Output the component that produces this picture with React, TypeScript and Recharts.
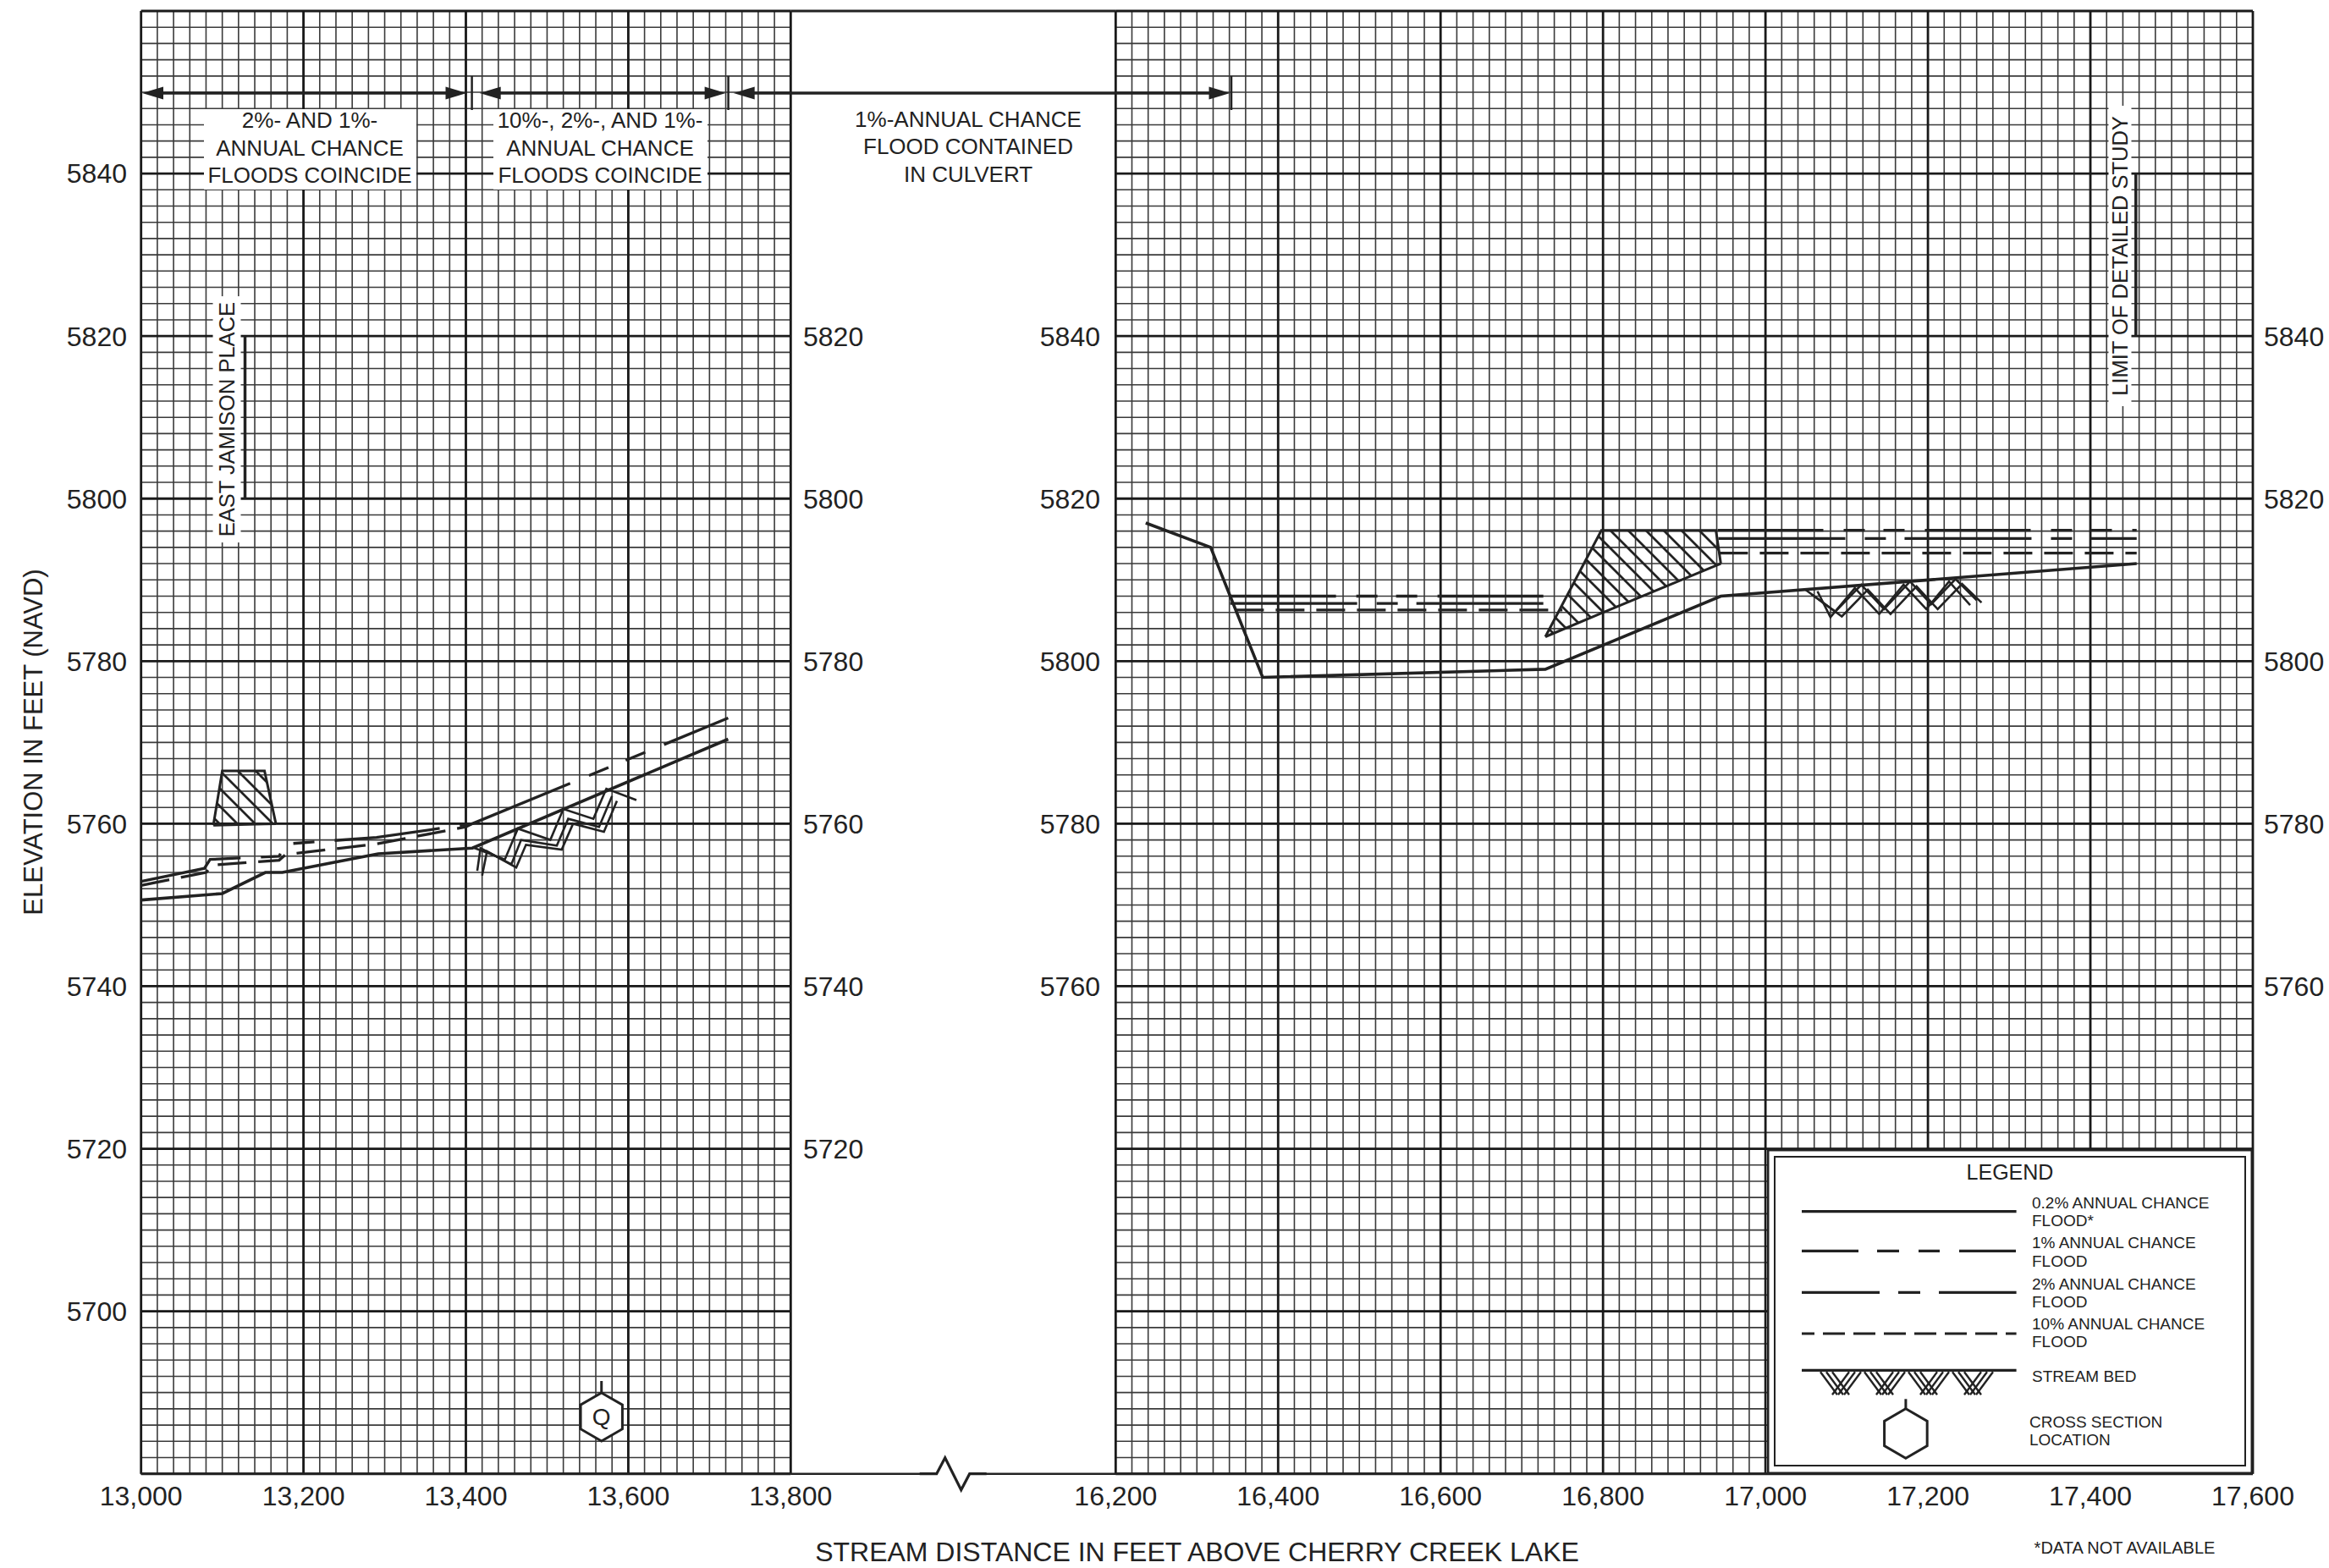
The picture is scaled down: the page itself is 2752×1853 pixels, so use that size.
import React from 'react';
import {
  ComposedChart,
  Line,
  Area,
  XAxis,
  YAxis,
  CartesianGrid,
  ReferenceLine,
  ReferenceDot,
  Legend,
} from 'recharts';

const FONT = '"Liberation Sans", Arial, Helvetica, sans-serif';
const INK = '#222';

// ---------- tick labels ----------
const leftStationTicks = [13000, 13200, 13400, 13600, 13800];
const rightStationTicks = [16200, 16400, 16600, 16800, 17000, 17200, 17400, 17600];
const leftElevTicksLeft = [5700, 5720, 5740, 5760, 5780, 5800, 5820, 5840];
const leftElevTicksRight = [5720, 5740, 5760, 5780, 5800, 5820];
const rightElevTicks = [5760, 5780, 5800, 5820, 5840];
const leftMajorElev = [5680, 5700, 5720, 5740, 5760, 5780, 5800, 5820, 5840, 5860];
const rightMajorElev = [5700, 5720, 5740, 5760, 5780, 5800, 5820, 5840, 5860, 5880];

// ---------- left panel (13,000 - 13,800) ----------
const leftStreamBed = [
  { x: 13000, y: 5750.6 },
  { x: 13100, y: 5751.4 },
  { x: 13153, y: 5754.0 },
  { x: 13174, y: 5754.0 },
  { x: 13292, y: 5756.3 },
  { x: 13408, y: 5757.0 },
  { x: 13723, y: 5770.4 },
];
const leftOnePct = [
  { x: 13000, y: 5752.9 },
  { x: 13078, y: 5754.5 },
  { x: 13085, y: 5755.6 },
  { x: 13170, y: 5756.0 },
  { x: 13178, y: 5757.5 },
  { x: 13290, y: 5758.3 },
  { x: 13408, y: 5760.0 },
];
const leftTenPct = [
  { x: 13000, y: 5752.4 },
  { x: 13080, y: 5754.0 },
  { x: 13088, y: 5754.9 },
  { x: 13170, y: 5755.5 },
  { x: 13178, y: 5756.2 },
  { x: 13290, y: 5757.5 },
  { x: 13400, y: 5759.6 },
  { x: 13408, y: 5760.0 },
];
const leftCoincident = [
  { x: 13408, y: 5760.0 },
  { x: 13723, y: 5773.0 },
];
const leftBedZigA = [
  { x: 13408, y: 5757.1 },
  { x: 13448, y: 5755.6 },
  { x: 13464, y: 5759.4 },
  { x: 13504, y: 5758.0 },
  { x: 13520, y: 5761.8 },
  { x: 13557, y: 5760.6 },
  { x: 13573, y: 5764.3 },
  { x: 13610, y: 5762.9 },
];
const leftBedZigB = [
  { x: 13414, y: 5754.2 },
  { x: 13418, y: 5757.0 },
  { x: 13456, y: 5755.0 },
  { x: 13468, y: 5758.0 },
  { x: 13512, y: 5757.3 },
  { x: 13526, y: 5760.6 },
  { x: 13564, y: 5759.6 },
  { x: 13580, y: 5763.4 },
];
const leftBedZigC = [
  { x: 13420, y: 5753.6 },
  { x: 13426, y: 5756.6 },
  { x: 13462, y: 5754.6 },
  { x: 13474, y: 5757.4 },
  { x: 13518, y: 5756.8 },
  { x: 13532, y: 5760.0 },
  { x: 13570, y: 5759.0 },
  { x: 13586, y: 5762.8 },
];
const leftBridge = [
  { x: 13089, r: [5759.8, 5759.8] },
  { x: 13100, r: [5759.83, 5766.5] },
  { x: 13152, r: [5759.96, 5766.5] },
  { x: 13166, r: [5760.0, 5760.0] },
];

// ---------- right panel (16,200 - 17,600) ----------
const rightStreamBed = [
  { x: 16237, y: 5817.0 },
  { x: 16317, y: 5814.0 },
  { x: 16381, y: 5798.0 },
  { x: 16729, y: 5799.0 },
  { x: 16945, y: 5808.0 },
  { x: 17457, y: 5812.0 },
];
const rightOnePctA = [
  { x: 16341, y: 5808.0 },
  { x: 16750, y: 5808.0 },
];
const rightTwoPctA = [
  { x: 16341, y: 5807.1 },
  { x: 16750, y: 5807.1 },
];
const rightTenPctA = [
  { x: 16347, y: 5806.3 },
  { x: 16750, y: 5806.3 },
];
const rightOnePctB = [
  { x: 16941, y: 5816.1 },
  { x: 17457, y: 5816.1 },
];
const rightTwoPctB = [
  { x: 16942, y: 5815.1 },
  { x: 17457, y: 5815.1 },
];
const rightTenPctB = [
  { x: 16943, y: 5813.3 },
  { x: 17457, y: 5813.3 },
];
const rightBedZigA = [
  { x: 17049, y: 5808.8 },
  { x: 17086, y: 5806.1 },
  { x: 17118, y: 5809.4 },
  { x: 17146, y: 5806.4 },
  { x: 17178, y: 5809.8 },
  { x: 17204, y: 5807.0 },
  { x: 17234, y: 5810.1 },
  { x: 17260, y: 5807.5 },
];
const rightBedZigB = [
  { x: 17057, y: 5808.2 },
  { x: 17094, y: 5805.5 },
  { x: 17126, y: 5808.8 },
  { x: 17154, y: 5805.8 },
  { x: 17186, y: 5809.2 },
  { x: 17212, y: 5806.4 },
  { x: 17242, y: 5809.5 },
  { x: 17266, y: 5807.2 },
];
const rightBedZigC = [
  { x: 17064, y: 5808.6 },
  { x: 17080, y: 5805.4 },
  { x: 17110, y: 5809.0 },
  { x: 17140, y: 5805.8 },
  { x: 17170, y: 5809.4 },
  { x: 17198, y: 5806.4 },
  { x: 17226, y: 5809.8 },
  { x: 17252, y: 5806.9 },
];
const rightBridge = [
  { x: 16729, r: [5803.0, 5803.0] },
  { x: 16798, r: [5805.9, 5816.1] },
  { x: 16939, r: [5811.75, 5816.1] },
  { x: 16945, r: [5812.0, 5812.0] },
];

// ---------- annotation texts ----------
const boxOneLines = ['2%- AND 1%-', 'ANNUAL CHANCE', 'FLOODS COINCIDE'];
const boxTwoLines = ['10%-, 2%-, AND 1%-', 'ANNUAL CHANCE', 'FLOODS COINCIDE'];
const culvertLines = ['1%-ANNUAL CHANCE', 'FLOOD CONTAINED', 'IN CULVERT'];
const legendLineRows = [
  ['0.2% ANNUAL CHANCE', 'FLOOD*'],
  ['1% ANNUAL CHANCE', 'FLOOD'],
  ['2% ANNUAL CHANCE', 'FLOOD'],
  ['10% ANNUAL CHANCE', 'FLOOD'],
];

// ---------- styles ----------
const DASH_1 = '125 24 25 22 25 24';
const DASH_2 = '150 23 25 22';
const DASH_10 = '34 14';
const LEG_DASH_1 = '67 22 26 23 25 23';
const LEG_DASH_2 = '92 22 26 22';
const LEG_DASH_10 = '26 10';

const gridTicks = (a: number, b: number, s: number) => {
  const out: number[] = [];
  for (let i = 0; a + i * s <= b + 1e-9; i++) out.push(Math.round((a + i * s) * 100) / 100);
  return out;
};
const leftMinorX = gridTicks(13000, 13800, 20);
const rightMinorX = gridTicks(16200, 17600, 20);
const leftMinorY = gridTicks(5680, 5860, 2);
const rightMinorY = gridTicks(5700, 5880, 2);

const fmtStation = (v: number) => v.toLocaleString('en-US');
const tickStyle = { fontSize: 32, fill: INK, fontFamily: FONT };

const VLabel = (text: string, w: number, h: number, size: number) => (props: any) => {
  const { cx, cy } = props;
  return (
    <g>
      <rect x={cx - w / 2} y={cy - h / 2} width={w} height={h} fill="#fff" />
      <text
        x={cx}
        y={cy}
        transform={`rotate(-90 ${cx} ${cy})`}
        textAnchor="middle"
        dy="0.36em"
        fontSize={size}
        fontFamily={FONT}
        fill={INK}
      >
        {text}
      </text>
    </g>
  );
};

const hexPoints = (cx: number, cy: number, r: number) =>
  [0, 1, 2, 3, 4, 5]
    .map((i) => {
      const a = (Math.PI / 180) * (60 * i - 90);
      return `${cx + r * Math.cos(a)},${cy + r * Math.sin(a)}`;
    })
    .join(' ');

const HexQ = (props: any) => {
  const { cx, cy } = props;
  const r = 28.5;
  return (
    <g>
      <line x1={cx} y1={cy - r - 14} x2={cx} y2={cy - r} stroke={INK} strokeWidth={3} />
      <polygon points={hexPoints(cx, cy, r)} fill="#fff" stroke={INK} strokeWidth={3} />
      <text x={cx} y={cy + 10} textAnchor="middle" fontSize={28} fontFamily={FONT} fill={INK}>
        Q
      </text>
    </g>
  );
};

const BedHatch = ({ x0, n, w, yTop, depth }: { x0: number; n: number; w: number; yTop: number; depth: number }) => {
  const segs: React.ReactNode[] = [];
  for (let i = 0; i < n; i++) {
    const bx = x0 + i * w;
    for (let k = 0; k < 3; k++) {
      segs.push(
        <line key={`a${i}${k}`} x1={bx + k * 7} y1={yTop + 2} x2={bx + k * 7 + 20} y2={yTop + depth} stroke={INK} strokeWidth={2.4} />
      );
      segs.push(
        <line key={`b${i}${k}`} x1={bx + 34 + k * 7} y1={yTop + 2} x2={bx + 14 + k * 7} y2={yTop + depth} stroke={INK} strokeWidth={2.4} />
      );
    }
  }
  return <g>{segs}</g>;
};

const LegendBox = () => {
  const rowY = [73.7, 120.3, 169.3, 218];
  const b1 = [70.3, 117, 166.3, 213];
  const b2 = [91.3, 138.7, 187, 233.7];
  const dashes = [undefined, LEG_DASH_1, LEG_DASH_2, LEG_DASH_10];
  const offs = [0, 0, 0, 11];
  const txt = { fontSize: 19, fontFamily: FONT, fill: INK } as const;
  return (
    <svg width={574} height={384} style={{ display: 'block' }}>
      <rect x={1.25} y={1.25} width={571.5} height={381.5} fill="#fff" stroke={INK} strokeWidth={2.5} />
      <rect x={9} y={9} width={556} height={365} fill="none" stroke={INK} strokeWidth={2} />
      <text x={287} y={36.3} textAnchor="middle" fontSize={25} fontFamily={FONT} fill={INK}>
        LEGEND
      </text>
      {legendLineRows.map((row, i) => (
        <g key={i}>
          <line
            x1={41}
            x2={294.6}
            y1={rowY[i]}
            y2={rowY[i]}
            stroke={INK}
            strokeWidth={3.2}
            strokeDasharray={dashes[i]}
            strokeDashoffset={offs[i]}
          />
          <text x={313} y={b1[i]} {...txt}>
            {row[0]}
          </text>
          <text x={313} y={b2[i]} {...txt}>
            {row[1]}
          </text>
        </g>
      ))}
      <line x1={41} x2={294.6} y1={261.3} y2={261.3} stroke={INK} strokeWidth={3.2} />
      <BedHatch x0={63} n={4} w={52} yTop={261.3} depth={29} />
      <text x={313} y={275.3} {...txt}>
        STREAM BED
      </text>
      <line x1={163.9} x2={163.9} y1={295.3} y2={306.8} stroke={INK} strokeWidth={3} />
      <polygon points={hexPoints(163.9, 336, 29.2)} fill="#fff" stroke={INK} strokeWidth={3} />
      <text x={310} y={329.3} {...txt}>
        CROSS SECTION
      </text>
      <text x={310} y={350.3} {...txt}>
        LOCATION
      </text>
    </svg>
  );
};

const lineCommon = {
  type: 'linear' as const,
  dataKey: 'y',
  stroke: INK,
  dot: false,
  activeDot: false,
  isAnimationActive: false,
  legendType: 'none' as const,
  xAxisId: 'x',
  yAxisId: 'y',
};

const areaCommon = {
  type: 'linear' as const,
  dataKey: 'r',
  stroke: INK,
  strokeWidth: 3,
  fill: 'url(#hatchPat)',
  fillOpacity: 1,
  dot: false,
  activeDot: false,
  isAnimationActive: false,
  legendType: 'none' as const,
  xAxisId: 'x',
  yAxisId: 'y',
};

const Arrow = ({ x1, x2, y }: { x1: number; x2: number; y: number }) => (
  <g>
    <line x1={x1 + 10} y1={y} x2={x2 - 10} y2={y} stroke={INK} strokeWidth={3.5} />
    <path d={`M${x1},${y} l25,-7.5 l0,15 z`} fill={INK} />
    <path d={`M${x2},${y} l-25,-7.5 l0,15 z`} fill={INK} />
  </g>
);

const TextBox = ({ cx, lines, baselines, rect }: { cx: number; lines: string[]; baselines: number[]; rect?: number[] }) => (
  <g>
    {rect && <rect x={rect[0]} y={rect[1]} width={rect[2]} height={rect[3]} fill="#fff" />}
    {lines.map((l, i) => (
      <text key={i} x={cx} y={baselines[i]} textAnchor="middle" fontSize={26} fontFamily={FONT} fill={INK}>
        {l}
      </text>
    ))}
  </g>
);

const MINOR = { stroke: '#3a3a3a', strokeWidth: 1.6 };
const MAJOR = { stroke: '#1a1a1a', strokeWidth: 2.8 };

export default function App() {
  return (
    <div style={{ position: 'relative', width: 2752, height: 1853, background: '#fff', overflow: 'hidden' }}>
      <style>{'body{margin:0;background:#fff;}'}</style>
      <svg width={0} height={0} style={{ position: 'absolute' }}>
        <defs>
          <pattern id="hatchPat" patternUnits="userSpaceOnUse" width={21} height={21}>
            <path d="M0,0 L21,21 M-3,18 L3,24 M18,-3 L24,3" stroke={INK} strokeWidth={2.8} />
          </pattern>
        </defs>
      </svg>

      {/* LEFT PANEL */}
      <div style={{ position: 'absolute', left: 0, top: 0, width: 1100, height: 1853 }}>
        <ComposedChart width={1100} height={1853} margin={{ top: 13, right: 65.7, bottom: 51.3, left: 66.7 }}>
          <XAxis xAxisId="xm" type="number" dataKey="x" domain={[13000, 13800]} ticks={leftMinorX} interval={0} hide allowDataOverflow />
          <YAxis yAxisId="ym" type="number" domain={[5680, 5860]} ticks={leftMinorY} interval={0} hide allowDataOverflow />
          <YAxis yAxisId="yM" type="number" domain={[5680, 5860]} ticks={leftMajorElev} interval={0} hide allowDataOverflow />
          <CartesianGrid xAxisId="xm" yAxisId="ym" {...MINOR} />
          <CartesianGrid xAxisId="x" yAxisId="yM" {...MAJOR} />
          <XAxis
            xAxisId="x"
            type="number"
            dataKey="x"
            domain={[13000, 13800]}
            ticks={leftStationTicks}
            interval={0}
            tickFormatter={fmtStation}
            tick={tickStyle}
            tickLine={false}
            tickMargin={9}
            axisLine={{ stroke: INK, strokeWidth: 3 }}
            height={60}
            allowDataOverflow
          />
          <YAxis
            yAxisId="y"
            orientation="left"
            type="number"
            domain={[5680, 5860]}
            ticks={leftElevTicksLeft}
            interval={0}
            tick={tickStyle}
            tickLine={false}
            axisLine={false}
            tickMargin={10.7}
            width={100}
            allowDataOverflow
          />
          <YAxis
            yAxisId="yr"
            orientation="right"
            type="number"
            domain={[5680, 5860]}
            ticks={leftElevTicksRight}
            interval={0}
            tick={{ ...tickStyle, textAnchor: 'start' }}
            tickLine={false}
            axisLine={false}
            tickMargin={8.7}
            width={100}
            allowDataOverflow
          />
          <Area {...areaCommon} data={leftBridge} />
          <Line {...lineCommon} data={leftBedZigA} strokeWidth={2.6} />
          <Line {...lineCommon} data={leftBedZigB} strokeWidth={2.6} />
          <Line {...lineCommon} data={leftBedZigC} strokeWidth={2.6} />
          <Line {...lineCommon} data={leftStreamBed} strokeWidth={3.6} />
          <Line {...lineCommon} data={leftTenPct} strokeWidth={3.3} strokeDasharray={DASH_10} />
          <Line {...lineCommon} data={leftOnePct} strokeWidth={3.3} strokeDasharray={DASH_1} />
          <Line {...lineCommon} data={leftCoincident} strokeWidth={3.3} strokeDasharray={DASH_1} />
          <ReferenceLine
            xAxisId="x"
            yAxisId="y"
            segment={[
              { x: 13128, y: 5800 },
              { x: 13128, y: 5820 },
            ]}
            stroke={INK}
            strokeWidth={3.5}
          />
          <ReferenceDot xAxisId="x" yAxisId="y" x={13105.6} y={5809.75} shape={VLabel('EAST JAMISON PLACE', 33, 291, 25.5)} />
          <ReferenceDot xAxisId="x" yAxisId="y" x={13567} y={5687} shape={HexQ} />
        </ComposedChart>
      </div>

      {/* RIGHT PANEL */}
      <div style={{ position: 'absolute', left: 1150, top: 0, width: 1602, height: 1853 }}>
        <ComposedChart width={1602} height={1853} margin={{ top: 13, right: 10, bottom: 51.3, left: 68.3 }}>
          <XAxis xAxisId="xm" type="number" dataKey="x" domain={[16200, 17600]} ticks={rightMinorX} interval={0} hide allowDataOverflow />
          <YAxis yAxisId="ym" type="number" domain={[5700, 5880]} ticks={rightMinorY} interval={0} hide allowDataOverflow />
          <YAxis yAxisId="yM" type="number" domain={[5700, 5880]} ticks={rightMajorElev} interval={0} hide allowDataOverflow />
          <CartesianGrid xAxisId="xm" yAxisId="ym" {...MINOR} />
          <CartesianGrid xAxisId="x" yAxisId="yM" {...MAJOR} />
          <XAxis
            xAxisId="x"
            type="number"
            dataKey="x"
            domain={[16200, 17600]}
            ticks={rightStationTicks}
            interval={0}
            tickFormatter={fmtStation}
            tick={tickStyle}
            tickLine={false}
            tickMargin={9}
            axisLine={{ stroke: INK, strokeWidth: 3 }}
            height={60}
            allowDataOverflow
          />
          <YAxis
            yAxisId="y"
            orientation="left"
            type="number"
            domain={[5700, 5880]}
            ticks={rightElevTicks}
            interval={0}
            tick={tickStyle}
            tickLine={false}
            axisLine={false}
            tickMargin={12.3}
            width={100}
            allowDataOverflow
          />
          <YAxis
            yAxisId="yr"
            orientation="right"
            type="number"
            domain={[5700, 5880]}
            ticks={rightElevTicks}
            interval={0}
            tick={{ ...tickStyle, textAnchor: 'start' }}
            tickLine={false}
            axisLine={false}
            tickMargin={7}
            width={80}
            allowDataOverflow
          />
          <Area {...areaCommon} data={rightBridge} />
          <Line {...lineCommon} data={rightBedZigA} strokeWidth={2.6} />
          <Line {...lineCommon} data={rightBedZigB} strokeWidth={2.6} />
          <Line {...lineCommon} data={rightBedZigC} strokeWidth={2.6} />
          <Line {...lineCommon} data={rightStreamBed} strokeWidth={3.6} />
          <Line {...lineCommon} data={rightOnePctA} strokeWidth={3.3} strokeDasharray={DASH_1} />
          <Line {...lineCommon} data={rightTwoPctA} strokeWidth={3.3} strokeDasharray={DASH_2} />
          <Line {...lineCommon} data={rightTenPctA} strokeWidth={3.3} strokeDasharray={DASH_10} />
          <Line {...lineCommon} data={rightOnePctB} strokeWidth={3.3} strokeDasharray={DASH_1} />
          <Line {...lineCommon} data={rightTwoPctB} strokeWidth={3.3} strokeDasharray={DASH_2} />
          <Line {...lineCommon} data={rightTenPctB} strokeWidth={3.3} strokeDasharray={DASH_10} />
          <ReferenceLine
            xAxisId="x"
            yAxisId="y"
            segment={[
              { x: 17456, y: 5840 },
              { x: 17456, y: 5860 },
            ]}
            stroke={INK}
            strokeWidth={3.5}
          />
          <ReferenceDot xAxisId="x" yAxisId="y" x={17436.4} y={5849.86} shape={VLabel('LIMIT OF DETAILED STUDY', 27, 355, 25.5)} />
          <Legend
            content={() => <LegendBox />}
            verticalAlign="middle"
            align="center"
            wrapperStyle={{ position: 'absolute', left: 938, top: 1358, width: 574, height: 384 }}
          />
        </ComposedChart>
      </div>

      {/* OVERLAY: break, dimension arrows, notes, titles */}
      <svg
        width={2752}
        height={1853}
        style={{ position: 'absolute', left: 0, top: 0, pointerEvents: 'none' }}
      >
        <line x1={934.3} x2={1318.3} y1={13} y2={13} stroke={INK} strokeWidth={3} />
        <line x1={934.3} x2={1090} y1={1741.7} y2={1741.7} stroke={INK} strokeWidth={2.5} />
        <line x1={1162} x2={1318.3} y1={1741.7} y2={1741.7} stroke={INK} strokeWidth={2.5} />
        <polyline
          points="1086.7,1741.7 1106.7,1741.7 1116.7,1722.7 1135.7,1760.7 1145.7,1741.7 1165.7,1741.7"
          fill="none"
          stroke={INK}
          strokeWidth={3.2}
        />

        <Arrow x1={168} x2={551.5} y={110} />
        <Arrow x1={566.7} x2={857.6} y={110} />
        <Arrow x1={866.7} x2={1453.5} y={110} />
        <line x1={557.6} x2={557.6} y1={90} y2={130} stroke={INK} strokeWidth={2.5} />
        <line x1={860.6} x2={860.6} y1={90} y2={130} stroke={INK} strokeWidth={2.5} />
        <line x1={1455} x2={1455} y1={90} y2={130} stroke={INK} strokeWidth={2.5} />

        <TextBox cx={366} lines={boxOneLines} baselines={[151, 183.5, 216]} rect={[241, 129, 251, 95]} />
        <TextBox cx={709} lines={boxTwoLines} baselines={[151, 183.5, 216]} rect={[583, 129, 253, 95]} />
        <TextBox cx={1144} lines={culvertLines} baselines={[150, 182, 215]} />

        <text
          x={38.6}
          y={877}
          transform="rotate(-90 38.6 877)"
          textAnchor="middle"
          dy="0.36em"
          fontSize={31}
          fontFamily={FONT}
          fill={INK}
        >
          ELEVATION IN FEET (NAVD)
        </text>
        <text x={1414.5} y={1845} textAnchor="middle" fontSize={32} fontFamily={FONT} fill={INK}>
          STREAM DISTANCE IN FEET ABOVE CHERRY CREEK LAKE
        </text>
        <text x={2510.5} y={1836} textAnchor="middle" fontSize={20} fontFamily={FONT} fill={INK}>
          *DATA NOT AVAILABLE
        </text>
      </svg>
    </div>
  );
}
